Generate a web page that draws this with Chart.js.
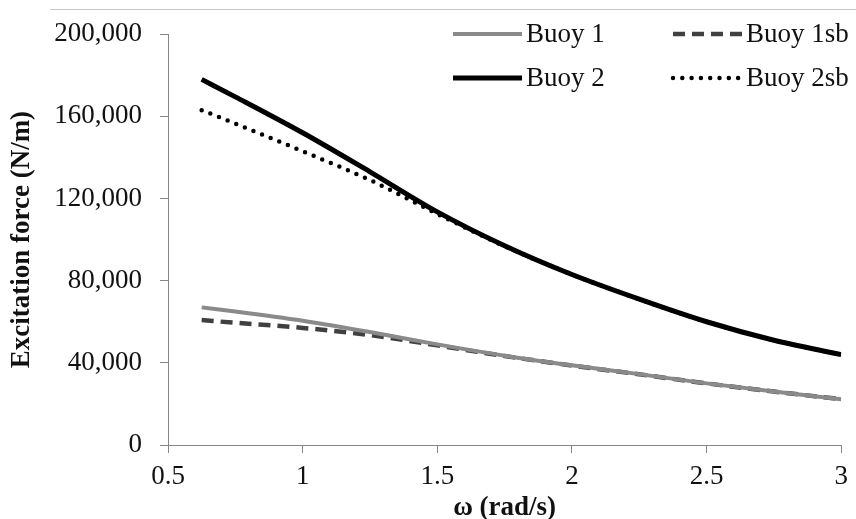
<!DOCTYPE html>
<html>
<head>
<meta charset="utf-8">
<script src="https://cdn.jsdelivr.net/npm/chart.js@4.4.0/dist/chart.umd.min.js"></script>
<style>
  html, body { margin: 0; padding: 0; background: #fff; }
  #wrap { position: relative; width: 856px; height: 519px; }
  #topline { position: absolute; left: 50px; right: 0; top: 9px; border-top: 1px solid #c8c8c8; }
</style>
</head>
<body>
<div id="wrap">
  <canvas id="forceChart" width="856" height="519"></canvas>
  <div id="topline"></div>
</div>
<script>
// frequency (rad/s)
const omega = [0.625, 0.75, 1.0, 1.25, 1.5, 1.75, 2.0, 2.25, 2.5, 2.75, 3.0];

// excitation force (N/m)
const buoy1   = [67000, 65000, 60500, 55000, 49000, 43500, 38800, 34500, 30000, 26000, 22300];
const buoy1sb = [60800, 59500, 57000, 53500, 48500, 43300, 38700, 34400, 30000, 26000, 22300];
const buoy2   = [178000, 169500, 152000, 133000, 113500, 97000, 83000, 71000, 60000, 51000, 44000];
const buoy2sb = [163000, 156500, 143000, 129000, 112500, 96800, 83000, 71000, 60000, 51000, 44000];

const xTicks = [0.5, 1, 1.5, 2, 2.5, 3];
const yTicks = [0, 40000, 80000, 120000, 160000, 200000];

const serif = "'Liberation Serif', 'Times New Roman', serif";
const axisGrey = '#868686';

const toPoints = (ys) => ys.map((y, i) => ({ x: omega[i], y: y }));

// legend drawn inside the plot, two rows of two
const insideLegend = {
  id: 'insideLegend',
  afterDraw(chart) {
    const ctx = chart.ctx;
    const cols = [453, 673];
    const rows = [34, 78];
    const lineLen = 69;
    chart.data.datasets.forEach((ds, i) => {
      const x = cols[i % 2];
      const y = rows[Math.floor(i / 2)];
      ctx.save();
      ctx.strokeStyle = ds.borderColor;
      ctx.lineWidth = ds.borderWidth;
      ctx.lineCap = ds.borderCapStyle || 'butt';
      ctx.setLineDash(ds.borderDash || []);
      ctx.beginPath();
      ctx.moveTo(x, y);
      ctx.lineTo(x + lineLen, y);
      ctx.stroke();
      ctx.setLineDash([]);
      ctx.fillStyle = '#111';
      ctx.font = '27px ' + serif;
      ctx.textBaseline = 'middle';
      ctx.textAlign = 'left';
      ctx.fillText(ds.label, x + lineLen + 4, y + 1);
      ctx.restore();
    });
  }
};

const ctx = document.getElementById('forceChart').getContext('2d');
new Chart(ctx, {
  type: 'line',
  data: {
    datasets: [
      { label: 'Buoy 1', data: toPoints(buoy1), borderColor: '#8a8a8a', borderWidth: 4 },
      { label: 'Buoy 1sb', data: toPoints(buoy1sb), borderColor: '#404040', borderWidth: 4.5, borderDash: [12, 7] },
      { label: 'Buoy 2', data: toPoints(buoy2), borderColor: '#000', borderWidth: 5 },
      { label: 'Buoy 2sb', data: toPoints(buoy2sb), borderColor: '#000', borderWidth: 4.5, borderDash: [0, 9.3], borderCapStyle: 'round' }
    ]
  },
  options: {
    responsive: false,
    animation: false,
    layout: { padding: { left: 0, right: 13, top: 27, bottom: 0 } },
    elements: {
      point: { radius: 0, hoverRadius: 0 },
      line: { tension: 0.4, cubicInterpolationMode: 'monotone', fill: false }
    },
    plugins: {
      legend: { display: false },
      tooltip: { enabled: false }
    },
    scales: {
      x: {
        type: 'linear',
        min: 0.5,
        max: 3,
        afterBuildTicks: (scale) => { scale.ticks = xTicks.map(v => ({ value: v })); },
        afterFit: (scale) => { scale.height = 74; },
        ticks: {
          color: '#111',
          font: { family: serif, size: 27 },
          padding: 8,
          maxRotation: 0,
          callback: (v) => String(v)
        },
        grid: { drawOnChartArea: false, drawTicks: true, tickLength: 8, color: axisGrey },
        border: { color: axisGrey, width: 1 },
        title: {
          display: true,
          text: 'ω (rad/s)',
          color: '#111',
          font: { family: serif, size: 27, weight: 'bold', lineHeight: 1 },
          padding: { top: 0, bottom: -3 }
        }
      },
      y: {
        min: 0,
        max: 200000,
        afterBuildTicks: (scale) => { scale.ticks = yTicks.map(v => ({ value: v })); },
        afterFit: (scale) => { scale.width = 168; },
        ticks: {
          color: '#111',
          font: { family: serif, size: 27 },
          padding: 18,
          callback: (v) => v.toLocaleString('en-US')
        },
        grid: { drawOnChartArea: false, drawTicks: true, tickLength: 8, color: axisGrey },
        border: { color: axisGrey, width: 1 },
        title: {
          display: true,
          text: 'Excitation force (N/m)',
          color: '#111',
          font: { family: serif, size: 27, weight: 'bold' },
          padding: { top: 6, bottom: 0 }
        }
      }
    }
  },
  plugins: [insideLegend]
});
</script>
</body>
</html>
